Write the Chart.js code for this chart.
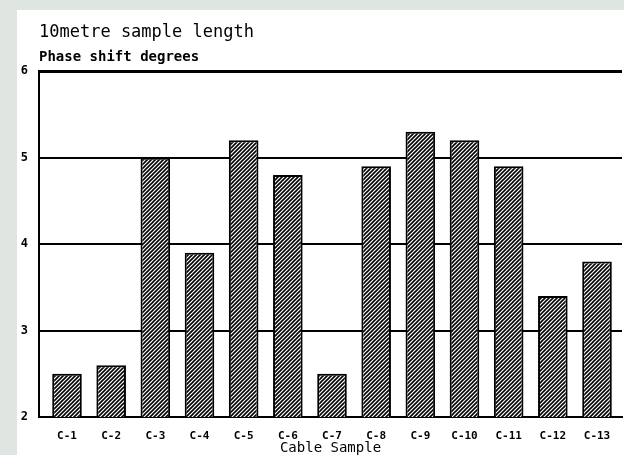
<!DOCTYPE html>
<html>
<head>
<meta charset="utf-8">
<script src="https://cdn.jsdelivr.net/npm/chart.js@4/dist/chart.umd.min.js"></script>
<style>
  html, body { margin: 0; padding: 0; }
  body { width: 624px; height: 455px; background: #dfe6e2; position: relative; overflow: hidden; }
  .panel { position: absolute; left: 17px; top: 10px; width: 607px; height: 445px; background: #fff; }
</style>
</head>
<body>
<div class="panel"><canvas id="phaseChart" width="607" height="445"></canvas></div>
<script>
// cable samples and measured phase shift (degrees) over 10 m
const cables = ['C-1', 'C-2', 'C-3', 'C-4', 'C-5', 'C-6', 'C-7', 'C-8', 'C-9', 'C-10', 'C-11', 'C-12', 'C-13'];
const phaseShift = [2.5, 2.6, 5.0, 3.9, 5.2, 4.8, 2.5, 4.9, 5.3, 5.2, 4.9, 3.4, 3.8];
const yTicks = [2, 3, 4, 5, 6];

const mono = "'DejaVu Sans Mono', 'Liberation Mono', monospace";

// hatch fill  ////
function makeHatch() {
  let c = document.createElement('canvas');
  c.width = 4; c.height = 4;
  let g = c.getContext('2d');
  g.fillStyle = '#fff';
  g.fillRect(0, 0, 4, 4);
  g.strokeStyle = '#000';
  g.lineWidth = 1.6;
  g.beginPath();
  g.moveTo(0, 4); g.lineTo(4, 0);
  g.moveTo(-1, 1); g.lineTo(1, -1);
  g.moveTo(3, 5); g.lineTo(5, 3);
  g.stroke();
  return g.createPattern(c, 'repeat');
}

new Chart(document.getElementById('phaseChart'), {
  type: 'bar',
  data: {
    datasets: [{
      data: cables.map((c, i) => ({ x: i, y: phaseShift[i] })),
      backgroundColor: makeHatch(),
      borderColor: '#000',
      borderWidth: 2,
      barPercentage: 0.67,
      categoryPercentage: 1
    }]
  },
  options: {
    responsive: false,
    animation: false,
    layout: { padding: { left: 0, right: 2, top: 0, bottom: 0 } },
    plugins: {
      legend: { display: false },
      tooltip: { enabled: false },
      title: {
        display: true,
        fullSize: false,
        text: '10metre sample length',
        align: 'start',
        color: '#000',
        font: { family: mono, size: 17, weight: 'normal' },
        padding: { top: 12, bottom: 0 }
      },
      subtitle: {
        display: true,
        fullSize: false,
        text: 'Phase shift degrees',
        align: 'start',
        color: '#000',
        font: { family: mono, size: 14, weight: 'bold' },
        padding: { top: 7, bottom: 5 }
      }
    },
    scales: {
      x: {
        type: 'linear',
        offset: false,
        min: -0.634,
        max: 12.566,
        grid: { display: false, drawTicks: false },
        border: { display: true, color: '#000', width: 2 },
        ticks: {
          stepSize: 1,
          includeBounds: false,
          autoSkip: false,
          maxRotation: 0,
          padding: 13,
          color: '#000',
          font: { family: mono, size: 11, weight: 'bold' },
          callback: v => cables[v] ?? ''
        },
        title: {
          display: true,
          text: 'Cable Sample',
          color: '#000',
          font: { family: mono, size: 14, lineHeight: 1 },
          padding: { top: 0, bottom: 0 }
        },
        afterFit: s => { s.height = 38; }
      },
      y: {
        min: 2,
        max: 6,
        grid: {
          color: '#000',
          drawTicks: false,
          lineWidth: c => (c.tick && c.tick.value === 6 ? 3 : 2)
        },
        border: { display: true, color: '#000', width: 2 },
        afterBuildTicks: s => { s.ticks = yTicks.map(v => ({ value: v })); },
        ticks: {
          padding: 11,
          color: '#000',
          font: { family: mono, size: 12, weight: 'bold' }
        },
        afterFit: s => { s.width = 22; }
      }
    }
  }
});
</script>
</body>
</html>
